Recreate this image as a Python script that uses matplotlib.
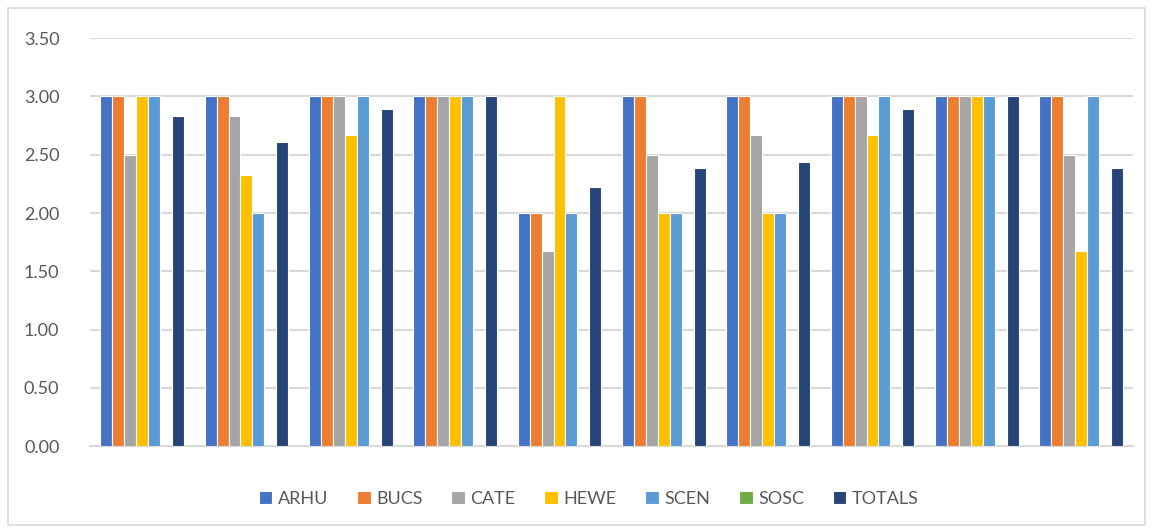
import numpy as np
import matplotlib.pyplot as plt
from matplotlib.patches import Rectangle

# Dữ liệu
series = ['ARHU', 'BUCS', 'CATE', 'HEWE', 'SCEN', 'SOSC', 'TOTALS']
colors = ['#4472C4', '#ED7D31', '#A5A5A5', '#FFC000', '#5B9BD5', '#70AD47', '#264478']
arhu = [3.00, 3.00, 3.00, 3.00, 2.00, 3.00, 3.00, 3.00, 3.00, 3.00]
bucs = [3.00, 3.00, 3.00, 3.00, 2.00, 3.00, 3.00, 3.00, 3.00, 3.00]
cate = [2.50, 2.83, 3.00, 3.00, 1.67, 2.50, 2.67, 3.00, 3.00, 2.50]
hewe = [3.00, 2.33, 2.67, 3.00, 3.00, 2.00, 2.00, 2.67, 3.00, 1.67]
scen = [3.00, 2.00, 3.00, 3.00, 2.00, 2.00, 2.00, 3.00, 3.00, 3.00]
sosc = [0, 0, 0, 0, 0, 0, 0, 0, 0, 0]
totals = [2.83, 2.61, 2.89, 3.00, 2.22, 2.39, 2.44, 2.89, 3.00, 2.39]
values = [arhu, bucs, cate, hewe, scen, sosc, totals]

plt.rcParams['font.family'] = ['Lato', 'DejaVu Sans']

fig = plt.figure(figsize=(11.53, 5.31), dpi=100)
ax = fig.add_axes([0.078, 0.16, 0.905, 0.768])

n = len(arhu)
x = np.arange(n)
w = 0.8 / len(series)
for i, (name, vals) in enumerate(zip(series, values)):
    ax.bar(x - 0.4 + w * (i + 0.5), vals, width=w, color=colors[i],
           edgecolor='white', linewidth=0.8, label=name, zorder=3)

ax.set_xlim(-0.5, n - 0.5)
ax.set_ylim(0, 3.5)
ax.set_yticks(np.arange(0, 3.51, 0.5))
ax.set_yticklabels([f'{v:.2f}' for v in np.arange(0, 3.51, 0.5)])
ax.set_xticks([])
ax.yaxis.grid(True, color='#d9d9d9', linewidth=1.5, zorder=0)
for s in ['top', 'right', 'left']:
    ax.spines[s].set_visible(False)
ax.spines['bottom'].set_color('#d9d9d9')
ax.spines['bottom'].set_linewidth(1.5)
ax.tick_params(axis='y', length=0, labelsize=13, labelcolor='#595959', pad=22)

ax.legend(loc='upper center', bbox_to_anchor=(0.478, -0.07), ncol=7,
          frameon=False, fontsize=13, labelcolor='#595959',
          handlelength=0.75, handleheight=0.75, handletextpad=0.3,
          columnspacing=1.6)

# khung viền
fig.patches.append(Rectangle((0.007, 0.012), 0.986, 0.972, transform=fig.transFigure,
                             fill=False, edgecolor='#d9d9d9', linewidth=1.2))

fig.savefig('out.png', dpi=100)
